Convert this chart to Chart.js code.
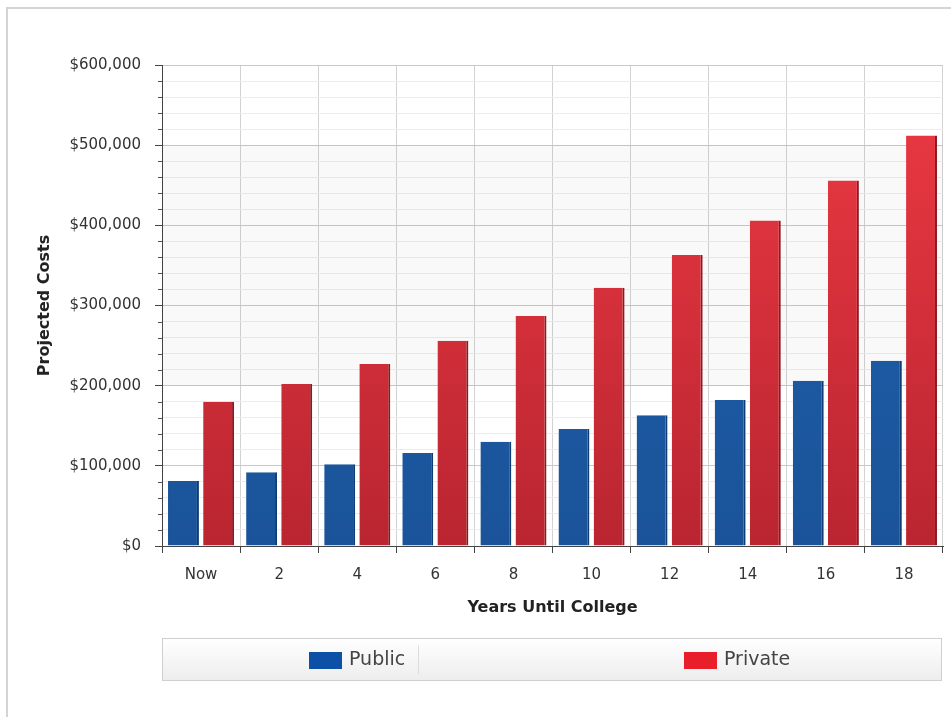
<!DOCTYPE html>
<html>
<head>
<meta charset="utf-8">
<script src="https://cdn.jsdelivr.net/npm/chart.js@4.4.1/dist/chart.umd.min.js"></script>
<style>
  html, body { margin: 0; padding: 0; background: #fff; }
  #wrap { position: relative; width: 951px; height: 717px; overflow: hidden; }
  #frame { position: absolute; left: 6px; top: 7px; width: 2000px; height: 2000px; border: 2px solid #d4d4d4; box-sizing: border-box; pointer-events: none; }
  canvas { position: absolute; left: 0; top: 0; }
</style>
</head>
<body>
<div id="wrap">
  <div id="frame"></div>
  <canvas id="chart" width="951" height="717"></canvas>
</div>
<script>
const years = ['Now', '2', '4', '6', '8', '10', '12', '14', '16', '18'];
const publicCost = [81000, 92000, 102000, 116000, 130000, 146000, 163000, 182000, 206000, 231000];
const privateCost = [180000, 202000, 227000, 256000, 287000, 322000, 363000, 406000, 456000, 512000];
const yMax = 600000;
const yMajor = 100000;
const yMinor = 20000;

Chart.defaults.font.family = "'DejaVu Sans', Verdana, sans-serif";
Chart.defaults.color = '#333';

const vGrad = (ctx, top, bottom) => {
  const area = ctx.chart.chartArea;
  if (!area) return bottom;
  const g = ctx.chart.ctx.createLinearGradient(0, area.top, 0, area.bottom);
  g.addColorStop(0, top);
  g.addColorStop(1, bottom);
  return g;
};

const bandPlugin = {
  id: 'band',
  beforeDatasetsDraw(chart) {
    const { ctx, chartArea, scales: { y } } = chart;
    ctx.save();
    ctx.fillStyle = 'rgba(0,0,0,0.022)';
    const t = y.getPixelForValue(500000), b = y.getPixelForValue(200000);
    ctx.fillRect(chartArea.left + 1, t, chartArea.right - chartArea.left - 1, b - t);
    ctx.restore();
  },
  afterDraw(chart) {
    const { ctx, scales: { y } } = chart;
    ctx.save();
    ctx.strokeStyle = '#555';
    ctx.lineWidth = 1;
    for (let v = 0; v <= yMax; v += yMinor) {
      if (v % yMajor === 0) continue;
      const py = Math.round(y.getPixelForValue(v)) + 0.5;
      ctx.beginPath();
      ctx.moveTo(y.right - 4, py);
      ctx.lineTo(y.right, py);
      ctx.stroke();
    }
    ctx.restore();
  }
};

const legendPlugin = {
  id: 'boxLegend',
  afterDraw(chart) {
    const { ctx, chartArea } = chart;
    const x0 = chartArea.left + 0.5, x1 = chartArea.right - 1.5;
    const y0 = chartArea.bottom + 92.5, y1 = chartArea.bottom + 134.5;
    ctx.save();
    const g = ctx.createLinearGradient(0, y0, 0, y1);
    g.addColorStop(0, '#ffffff');
    g.addColorStop(1, '#ededed');
    ctx.fillStyle = g;
    ctx.fillRect(x0, y0, x1 - x0, y1 - y0);
    ctx.strokeStyle = '#cfcfcf';
    ctx.lineWidth = 1;
    ctx.strokeRect(x0, y0, x1 - x0, y1 - y0);
    ctx.font = "19px 'DejaVu Sans', sans-serif";
    ctx.textBaseline = 'middle';
    const half = (x1 - x0) / 2;
    const swatch = ['#0d51a7', '#e81f2a'];
    const shift = [0, -10];
    const cy = (y0 + y1) / 2;
    chart.data.datasets.forEach((ds, i) => {
      const tw = ctx.measureText(ds.label).width;
      const w = 33 + 7 + tw;
      const sx = Math.round(x0 + half * i + (half - w) / 2 + shift[i]);
      ctx.fillStyle = swatch[i];
      ctx.fillRect(sx, Math.round(cy - 8), 33, 17);
      ctx.fillStyle = '#444';
      ctx.fillText(ds.label, sx + 40, cy + 1);
      if (i === 0) {
        ctx.strokeStyle = '#dcdcdc';
        ctx.beginPath();
        ctx.moveTo(Math.round(sx + w + 13) + 0.5, y0 + 7);
        ctx.lineTo(Math.round(sx + w + 13) + 0.5, y1 - 6);
        ctx.stroke();
      }
    });
    ctx.restore();
  }
};

new Chart(document.getElementById('chart'), {
  type: 'bar',
  data: {
    labels: years,
    datasets: [
      {
        label: 'Public',
        data: publicCost,
        backgroundColor: c => vGrad(c, '#1f63b0', '#1a5399'),
        borderColor: '#0f3d72',
        borderWidth: { top: 0, left: 0, right: 2, bottom: 0 },
        borderSkipped: false,
        barPercentage: 0.88,
        categoryPercentage: 0.9,
      },
      {
        label: 'Private',
        data: privateCost,
        backgroundColor: c => vGrad(c, '#ee3a44', '#b92530'),
        borderColor: '#8e1820',
        borderWidth: { top: 0, left: 0, right: 2, bottom: 0 },
        borderSkipped: false,
        barPercentage: 0.88,
        categoryPercentage: 0.9,
      },
    ],
  },
  options: {
    responsive: false,
    animation: false,
    layout: { padding: { left: 0, right: 8, top: 65, bottom: 0 } },
    plugins: { legend: { display: false }, tooltip: { enabled: false } },
    scales: {
      x: {
        afterFit: s => { s.height = 171; },
        grid: {
          offset: true,
          color: '#d2d2d2',
          tickColor: '#444',
          tickLength: 7,
        },
        border: { color: '#444', width: 1 },
        ticks: { padding: 13, font: { size: 15 }, color: '#333' },
        title: {
          display: true,
          text: 'Years Until College',
          font: { size: 16, weight: 'bold' },
          color: '#222',
          padding: { top: 0, bottom: 100 },
        },
      },
      y: {
        min: 0,
        max: yMax,
        afterFit: s => { s.width = 162; },
        grid: {
          color: c => (c.tick && c.tick.value % yMajor === 0) ? '#c8c8c8' : '#ececec',
          tickColor: c => (c.tick && c.tick.value % yMajor === 0) ? '#444' : 'rgba(0,0,0,0)',
          tickLength: 7,
        },
        border: { color: '#444', width: 1 },
        ticks: {
          stepSize: yMinor,
          autoSkip: false,
          padding: 14,
          font: { size: 15 },
          color: '#333',
          callback: v => v % yMajor === 0 ? '$' + v.toLocaleString('en-US') : '',
        },
        title: {
          display: true,
          text: 'Projected Costs',
          font: { size: 16, weight: 'bold' },
          color: '#222',
          padding: { top: 35, bottom: 0 },
        },
      },
    },
  },
  plugins: [bandPlugin, legendPlugin],
});
</script>
</body>
</html>
